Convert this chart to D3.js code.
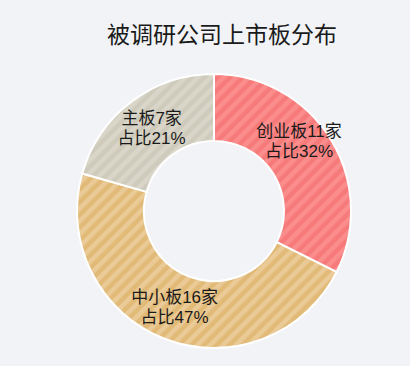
<!DOCTYPE html>
<html><head><meta charset="utf-8">
<script src="https://cdn.jsdelivr.net/npm/d3@7"></script>
<style>html,body{margin:0;padding:0;background:#f2f3f6;}svg{display:block;}</style>
</head><body>
<svg id="c" width="410" height="366"></svg>
<script>
const title = "被调研公司上市板分布";
const categories = ["创业板", "中小板", "主板"];
const counts = [11, 16, 7];
const percents = [32, 47, 21];
const baseColors = ["#f77a7a", "#e2ba77", "#cfcbbc"];
const stripeColors = ["#fb8d8d", "#eaca96", "#d9d6c9"];

const W = 410, H = 366, cx = 214, cy = 211, rOuter = 137, rInner = 70;
const FONT = "'Liberation Sans', 'Noto Sans CJK SC', sans-serif";
const svg = d3.select("#c");
svg.append("rect").attr("width", W).attr("height", H).attr("fill", "#f2f3f6");

const defs = svg.append("defs");
categories.forEach((c, i) => {
  const p = defs.append("pattern").attr("id", "pat" + i)
    .attr("patternUnits", "userSpaceOnUse").attr("width", 9).attr("height", 9)
    .attr("patternTransform", "rotate(45)");
  p.append("rect").attr("width", 9).attr("height", 9).attr("fill", baseColors[i]);
  p.append("rect").attr("width", 4.5).attr("height", 9).attr("fill", stripeColors[i]);
});

svg.append("text").attr("x", 222).attr("y", 43).attr("text-anchor", "middle")
  .attr("font-family", FONT).attr("font-size", 23)
  .attr("fill", "#1a1a1a").text(title);

const data = categories.map((c, i) => ({ name: c, count: counts[i], pct: percents[i], i }));
const pie = d3.pie().value(d => d.count).sort(null);
const arc = d3.arc().innerRadius(rInner).outerRadius(rOuter);
const g = svg.append("g").attr("transform", `translate(${cx},${cy})`);
const arcs = pie(data);
g.selectAll("path").data(arcs).join("path")
  .attr("d", arc).attr("fill", d => `url(#pat${d.data.i})`)
  .attr("stroke", "#fff").attr("stroke-width", 2);

// label placement: arc centroid, first slice nudged up as in the reference layout
const labelNudge = [[-3, -17], [-2, -2], [0, -1]];
const lg = g.selectAll("g.l").data(arcs).join("g").attr("class", "l")
  .attr("transform", (d, k) => { const [x, y] = arc.centroid(d); return `translate(${x + labelNudge[k][0]},${y + labelNudge[k][1]})`; });
lg.append("text").attr("text-anchor", "middle").attr("y", -3)
  .attr("font-family", FONT).attr("font-size", 17).attr("fill", "#1a1a1a")
  .text(d => d.data.name + d.data.count + "家");
lg.append("text").attr("text-anchor", "middle").attr("y", 17)
  .attr("font-family", FONT).attr("font-size", 17).attr("fill", "#1a1a1a")
  .text(d => "占比" + d.data.pct + "%");
</script>
</body></html>
